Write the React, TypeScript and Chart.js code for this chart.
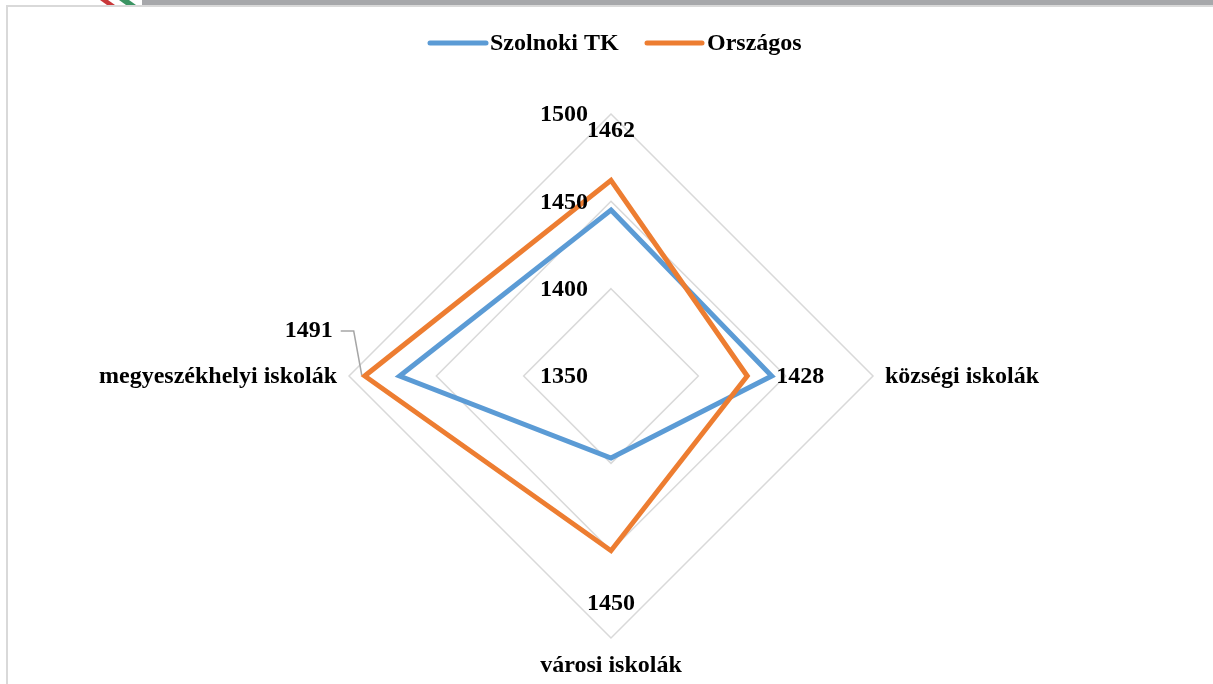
import React, { useEffect, useRef } from "react";
import { Chart, registerables } from "chart.js";

Chart.register(...registerables);

const categories: string[] = ["", "községi iskolák", "városi iskolák", "megyeszékhelyi iskolák"];
const szolnokiTK: number[] = [1445, 1442, 1397, 1471];
const orszagos: number[] = [1462, 1428, 1450, 1491];
const seriesNames: string[] = ["Szolnoki TK", "Országos"];
const tickValues: number[] = [1350, 1400, 1450, 1500];

const BLUE = "#5B9BD5";
const ORANGE = "#ED7D31";
const FONT = "bold 24px 'Liberation Serif', 'Times New Roman', serif";

const overlay = {
  id: "overlay",
  beforeDraw(chart: any) {
    const ctx = chart.ctx as CanvasRenderingContext2D;
    const W = chart.width;
    ctx.save();
    ctx.fillStyle = "#ffffff";
    ctx.fillRect(0, 0, W, chart.height);
    // top decoration bar
    ctx.fillStyle = "#a7a8ab";
    ctx.fillRect(142, 0, W - 142, 5);
    ctx.fillStyle = "#c9383a";
    ctx.beginPath();
    ctx.moveTo(100, 0); ctx.lineTo(108, 0); ctx.lineTo(115, 5); ctx.lineTo(107, 5); ctx.closePath();
    ctx.fill();
    ctx.fillStyle = "#3b9463";
    ctx.beginPath();
    ctx.moveTo(119, 0); ctx.lineTo(129, 0); ctx.lineTo(136, 5); ctx.lineTo(126, 5); ctx.closePath();
    ctx.fill();
    // frame
    ctx.strokeStyle = "#d9d9d9";
    ctx.lineWidth = 2;
    ctx.beginPath();
    ctx.moveTo(7, chart.height);
    ctx.lineTo(7, 6);
    ctx.lineTo(W, 6);
    ctx.stroke();
    ctx.restore();
  },
  afterDatasetsDraw(chart: any) {
    const ctx = chart.ctx as CanvasRenderingContext2D;
    const r = chart.scales.r;
    const cx = r.xCenter;
    const cy = r.yCenter;
    ctx.save();
    ctx.font = FONT;
    ctx.fillStyle = "#000000";
    ctx.textBaseline = "middle";

    // tick labels
    ctx.textAlign = "right";
    tickValues.forEach((v) => {
      const d = r.getDistanceFromCenterForValue(v);
      ctx.fillText(String(v), cx - 23, cy - d + 1);
    });

    // category labels
    const outer = r.getDistanceFromCenterForValue(1500);
    const pR = r.getPointPosition(1, outer);
    ctx.textAlign = "left";
    ctx.fillText(categories[1], pR.x + 12, pR.y + 1);
    const pB = r.getPointPosition(2, outer);
    ctx.textAlign = "center";
    ctx.fillText(categories[2], pB.x, pB.y + 28);
    const pL = r.getPointPosition(3, outer);
    ctx.textAlign = "right";
    ctx.fillText(categories[3], pL.x - 12, pL.y + 1);

    // data labels for Országos
    const meta = chart.getDatasetMeta(1);
    const pts = meta.data;
    ctx.textAlign = "center";
    ctx.fillText(String(orszagos[0]), pts[0].x, pts[0].y - 50);
    ctx.fillText(String(orszagos[1]), pts[1].x + 53, pts[1].y + 1);
    ctx.fillText(String(orszagos[2]), pts[2].x, pts[2].y + 53);
    ctx.textAlign = "right";
    ctx.fillText(String(orszagos[3]), pts[3].x - 32, pts[3].y - 45);
    // leader line
    ctx.strokeStyle = "#a6a6a6";
    ctx.lineWidth = 1.5;
    ctx.beginPath();
    ctx.moveTo(pts[3].x - 24, pts[3].y - 45);
    ctx.lineTo(pts[3].x - 11, pts[3].y - 45);
    ctx.lineTo(pts[3].x - 3, pts[3].y - 1);
    ctx.stroke();

    // legend
    const legendY = 43;
    const items = [
      { x0: 430, x1: 486, tx: 490, color: BLUE, label: seriesNames[0] },
      { x0: 647, x1: 702, tx: 707, color: ORANGE, label: seriesNames[1] },
    ];
    items.forEach((it) => {
      ctx.strokeStyle = it.color;
      ctx.lineWidth = 5;
      ctx.lineCap = "round";
      ctx.beginPath();
      ctx.moveTo(it.x0, legendY);
      ctx.lineTo(it.x1, legendY);
      ctx.stroke();
      ctx.fillStyle = "#000000";
      ctx.textAlign = "left";
      ctx.fillText(it.label, it.tx, legendY + 1);
    });
    ctx.restore();
  },
};

export default function App() {
  const ref = useRef<HTMLCanvasElement | null>(null);
  useEffect(() => {
    if (!ref.current) return;
    const chart = new Chart(ref.current, {
      type: "radar",
      data: {
        labels: categories,
        datasets: [
          {
            label: seriesNames[0],
            data: szolnokiTK,
            borderColor: BLUE,
            backgroundColor: "transparent",
            borderWidth: 5,
            pointRadius: 0,
            fill: false,
            order: 2,
          },
          {
            label: seriesNames[1],
            data: orszagos,
            borderColor: ORANGE,
            backgroundColor: "transparent",
            borderWidth: 5,
            pointRadius: 0,
            fill: false,
            order: 1,
          },
        ],
      },
      options: {
        responsive: false,
        animation: false,
        layout: { padding: { left: 349, right: 340, top: 114, bottom: 46 } },
        plugins: { legend: { display: false }, tooltip: { enabled: false } },
        scales: {
          r: {
            min: 1350,
            max: 1500,
            ticks: { display: false, stepSize: 50 },
            grid: { color: "#d9d9d9", lineWidth: 1.5, circular: false },
            angleLines: { display: false },
            pointLabels: { display: false },
          },
        },
      },
      plugins: [overlay],
    } as any);
    return () => chart.destroy();
  }, []);
  return (
    <div style={{ position: "fixed", left: 0, top: 0, width: 1213, height: 684, background: "#fff" }}>
      <canvas ref={ref} width={1213} height={684} style={{ display: "block" }} />
    </div>
  );
}
